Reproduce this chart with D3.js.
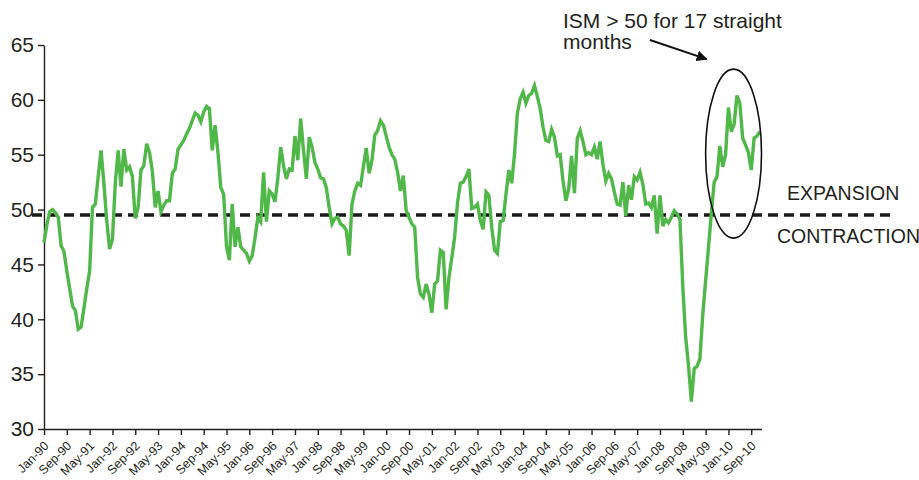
<!DOCTYPE html>
<html>
<head>
<meta charset="utf-8">
<script src="https://d3js.org/d3.v7.min.js"></script>
<style>
  body { margin: 0; background: #fff; }
  svg text { font-family: "Liberation Sans", Arial, sans-serif; fill: #231f20; }
</style>
</head>
<body>
<div id="chart"></div>
<script>
// ISM manufacturing index, monthly, Jan-90 .. Dec-10
const ism1990 = [47.0, 48.6, 49.8, 50.0, 49.7, 49.3, 46.7, 46.2, 44.4, 42.8, 41.2, 40.8];
const ism1991 = [39.1, 39.3, 41.0, 42.8, 44.4, 50.2, 50.5, 53.0, 55.4, 52.4, 49.0, 46.4];
const ism1992 = [47.3, 52.4, 55.4, 52.1, 55.5, 53.6, 53.9, 53.0, 49.2, 50.2, 53.6, 54.0];
const ism1993 = [56.0, 55.2, 53.5, 50.2, 51.7, 49.8, 50.4, 50.8, 50.8, 53.3, 53.7, 55.5];
const ism1994 = [55.9, 56.3, 56.9, 57.4, 58.1, 58.8, 58.6, 58.0, 58.9, 59.4, 59.2, 55.4];
const ism1995 = [57.7, 55.2, 52.0, 51.4, 46.6, 45.4, 50.5, 46.6, 48.4, 46.6, 46.3, 46.0];
const ism1996 = [45.3, 45.8, 47.4, 49.3, 48.9, 53.4, 48.9, 51.7, 51.4, 50.7, 52.9, 55.7];
const ism1997 = [54.0, 52.8, 53.7, 53.6, 56.7, 54.5, 58.3, 55.4, 52.8, 56.6, 55.7, 54.3];
const ism1998 = [53.7, 52.9, 52.8, 52.0, 50.2, 48.7, 49.2, 49.3, 48.7, 48.5, 48.1, 45.8];
const ism1999 = [50.5, 51.7, 52.4, 52.2, 53.9, 55.6, 53.3, 54.5, 56.8, 57.2, 58.1, 57.7];
const ism2000 = [56.7, 55.7, 55.0, 54.6, 53.4, 51.7, 53.1, 49.9, 49.3, 48.7, 48.4, 43.8];
const ism2001 = [42.3, 42.0, 43.2, 42.3, 40.6, 43.2, 43.5, 46.3, 46.1, 40.9, 43.8, 45.6];
const ism2002 = [47.5, 50.6, 52.4, 52.5, 53.0, 53.7, 50.1, 50.2, 50.5, 49.0, 48.2, 51.6];
const ism2003 = [51.3, 48.4, 46.3, 46.0, 48.9, 49.0, 51.4, 53.6, 52.4, 55.1, 58.8, 60.1];
const ism2004 = [60.7, 59.7, 60.4, 60.6, 61.3, 60.3, 59.2, 57.5, 56.3, 56.2, 57.3, 56.6];
const ism2005 = [54.9, 55.0, 52.6, 50.8, 51.9, 54.9, 51.5, 56.5, 57.2, 56.2, 55.0, 55.2];
const ism2006 = [55.0, 55.7, 54.6, 56.2, 54.1, 52.6, 53.3, 52.8, 51.6, 50.5, 50.4, 52.5];
const ism2007 = [49.4, 52.2, 50.9, 53.0, 52.7, 53.4, 52.3, 50.5, 50.6, 50.2, 51.3, 47.8];
const ism2008 = [51.3, 48.5, 49.1, 48.8, 49.3, 49.9, 49.6, 49.1, 43.0, 38.4, 35.8, 32.5];
const ism2009 = [35.5, 35.7, 36.4, 40.4, 43.5, 46.5, 49.6, 52.5, 53.0, 55.8, 53.9, 55.0];
const ism2010 = [59.3, 57.1, 57.8, 60.4, 59.7, 56.5, 55.9, 55.2, 53.6, 56.5, 56.7, 57.1];

const tickLabels = ["Jan-90", "Sep-90", "May-91", "Jan-92", "Sep-92", "May-93", "Jan-94", "Sep-94",
    "May-95", "Jan-96", "Sep-96", "May-97", "Jan-98", "Sep-98", "May-99", "Jan-00", "Sep-00",
    "May-01", "Jan-02", "Sep-02", "May-03", "Jan-04", "Sep-04", "May-05", "Jan-06", "Sep-06",
    "May-07", "Jan-08", "Sep-08", "May-09", "Jan-10", "Sep-10"];
const tickStep = 8; // months between labels
const yTicks = [30, 35, 40, 45, 50, 55, 60, 65];
const threshold = 49.5; // dashed expansion / contraction line

const ism = [].concat(ism1990, ism1991, ism1992, ism1993, ism1994, ism1995, ism1996,
    ism1997, ism1998, ism1999, ism2000, ism2001, ism2002, ism2003, ism2004, ism2005,
    ism2006, ism2007, ism2008, ism2009, ism2010);

const width = 919, height = 480;

const svg = d3.select("#chart").append("svg")
    .attr("width", width)
    .attr("height", height);

const x = d3.scaleLinear().domain([0, ism.length - 0.4]).range([44, 761.5]);
const y = d3.scaleLinear().domain([30, 65]).range([429, 45]);

// y axis
const yAxis = svg.append("g")
    .attr("transform", `translate(${x(0)},0)`)
    .call(d3.axisLeft(y).tickValues(yTicks).tickSize(6).tickSizeOuter(0).tickPadding(4));
yAxis.selectAll("text").style("font-size", "21px").attr("fill", "#231f20");

// x axis
const xAxis = svg.append("g")
    .attr("transform", `translate(0,${y(30)})`)
    .call(d3.axisBottom(x)
        .tickValues(tickLabels.map((d, i) => i * tickStep))
        .tickFormat((d, i) => tickLabels[i])
        .tickSize(6).tickSizeOuter(0));
xAxis.selectAll("text")
    .style("font-size", "12.5px")
    .attr("text-anchor", "end")
    .attr("x", -9)
    .attr("y", 16)
    .attr("dy", 0)
    .attr("transform", "rotate(-45)");

svg.selectAll(".domain, .tick line").attr("stroke", "#231f20").attr("stroke-width", 1.4);

// dashed 50 line
svg.append("line")
    .attr("x1", x(0) - 12)
    .attr("x2", width - 27)
    .attr("y1", y(threshold))
    .attr("y2", y(threshold))
    .attr("stroke", "#1a1a1a")
    .attr("stroke-width", 3.5)
    .attr("stroke-dasharray", "10,6");

// ISM line
const line = d3.line()
    .x((d, i) => x(i))
    .y(d => y(d));

svg.append("path")
    .datum(ism)
    .attr("d", line)
    .attr("fill", "none")
    .attr("stroke", "#4fb848")
    .attr("stroke-width", 3.4);

// labels either side of the dashed line
svg.append("text")
    .attr("x", 787)
    .attr("y", y(threshold) - 15)
    .style("font-size", "19.5px")
    .text("EXPANSION");

svg.append("text")
    .attr("x", 777)
    .attr("y", y(threshold) + 28)
    .style("font-size", "19.5px")
    .text("CONTRACTION");

// annotation: ellipse around 2009-10 recovery
const ell = { month: 241.8, value: 55.1, dMonth: 9.8, dValue: 7.7 };
const cx = x(ell.month), cy = y(ell.value);
const rx = x(ell.month + ell.dMonth) - cx, ry = y(ell.value - ell.dValue) - cy;

svg.append("ellipse")
    .attr("cx", cx)
    .attr("cy", cy)
    .attr("rx", rx)
    .attr("ry", ry)
    .attr("fill", "none")
    .attr("stroke", "#111")
    .attr("stroke-width", 1.6);

svg.append("defs").append("marker")
    .attr("id", "arrow")
    .attr("viewBox", "0 0 10 10")
    .attr("refX", 9)
    .attr("refY", 5)
    .attr("markerWidth", 5.5)
    .attr("markerHeight", 5.5)
    .attr("orient", "auto")
    .append("path")
    .attr("d", "M0,0L10,5L0,10z")
    .attr("fill", "#111");

svg.append("line")
    .attr("x1", 650)
    .attr("y1", 40)
    .attr("x2", cx - rx + 1)
    .attr("y2", cy - ry - 10)
    .attr("stroke", "#111")
    .attr("stroke-width", 2)
    .attr("marker-end", "url(#arrow)");

const note = svg.append("text")
    .attr("x", 563)
    .attr("y", 28)
    .style("font-size", "21px");
note.append("tspan").attr("x", 563).text("ISM > 50 for 17 straight");
note.append("tspan").attr("x", 563).attr("dy", 21).text("months");
</script>
</body>
</html>
